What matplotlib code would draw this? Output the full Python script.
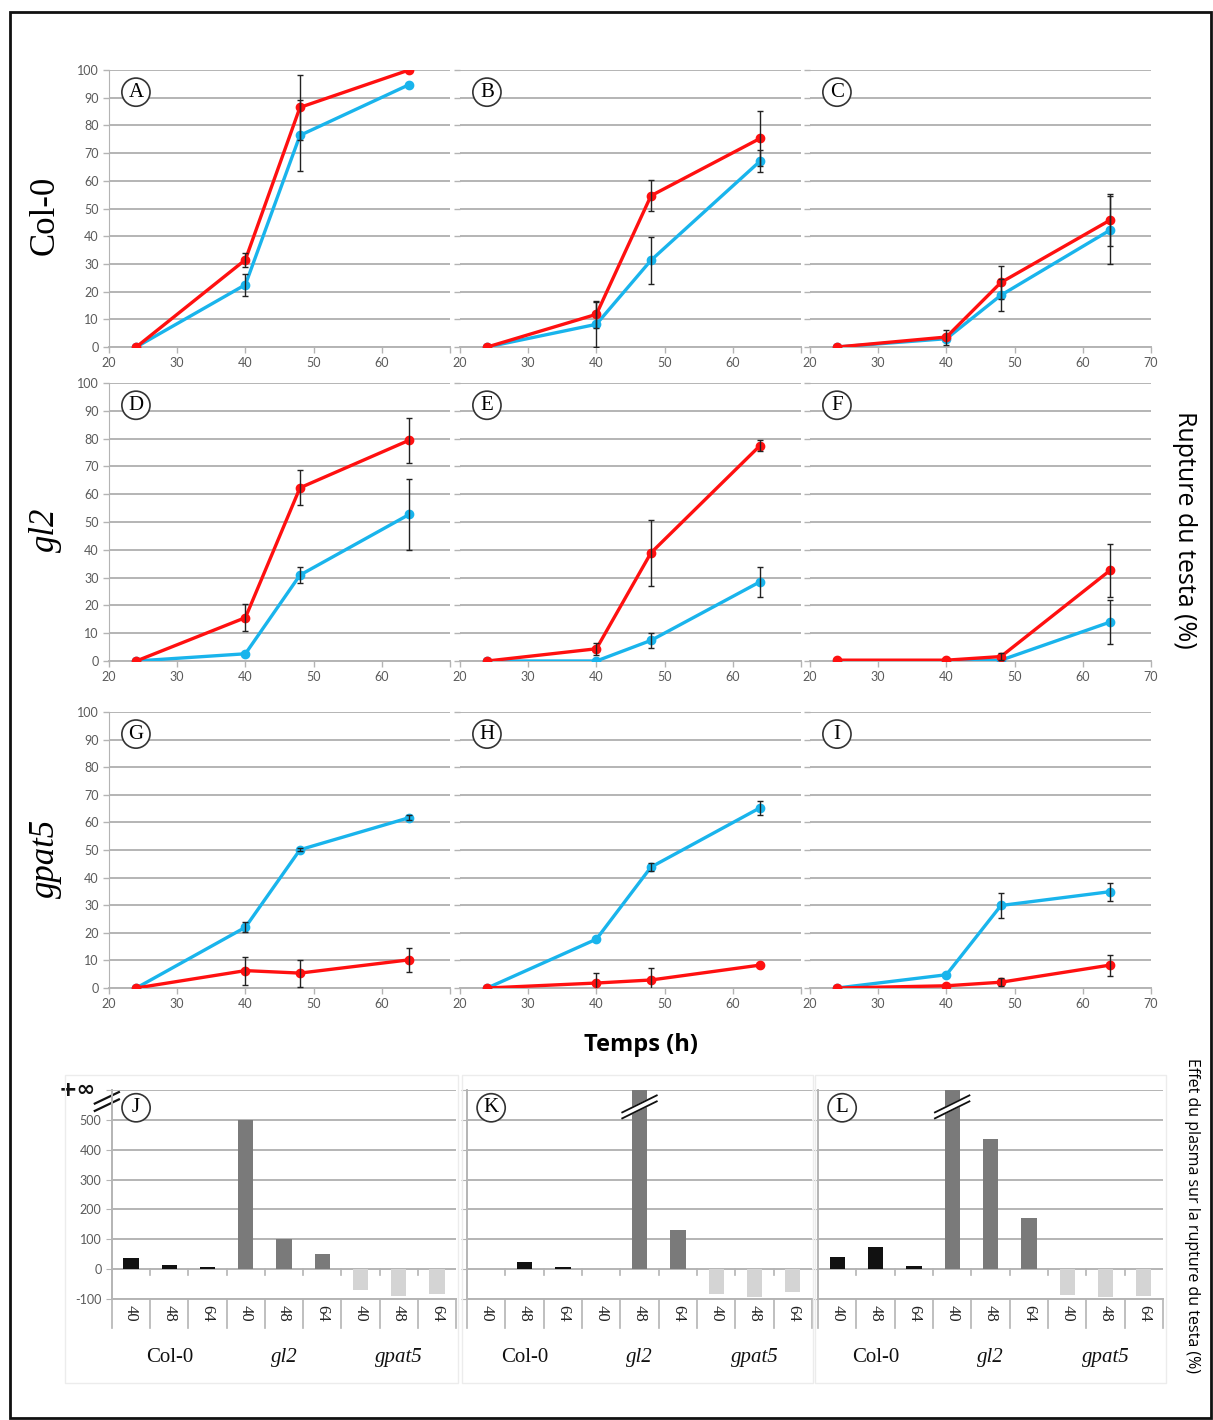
import numpy as np
import matplotlib.pyplot as plt
from matplotlib.patches import Rectangle

W, H = 1213, 1420

# time points (h) for the germination curves
hours = [24, 40, 48, 64]

# panels A-I : red and blue curves with their error bars
red_A = [0, 31.5, 86.5, 100]
red_A_err = [0, 2.5, 11.7, 0]
blue_A = [0, 22.5, 76.4, 94.7]
blue_A_err = [0, 4, 12.8, 0]

red_B = [0, 11.8, 54.6, 75.3]
red_B_err = [0, 4.8, 5.6, 10]
blue_B = [0, 8.2, 31.3, 67.1]
blue_B_err = [0, 8.2, 8.5, 3.9]

red_C = [0, 3.6, 23.3, 45.8]
red_C_err = [0, 2.7, 6, 9.4]
blue_C = [0, 3, 18.7, 42.2]
blue_C_err = [0, 0, 5.7, 12.4]

red_D = [0, 15.6, 62.3, 79.4]
red_D_err = [0, 4.8, 6.3, 8]
blue_D = [0, 2.6, 30.9, 52.7]
blue_D_err = [0, 0, 2.9, 12.8]

red_E = [0, 4.4, 38.9, 77.5]
red_E_err = [0, 2.2, 11.8, 2]
blue_E = [0, 0, 7.4, 28.5]
blue_E_err = [0, 0, 2.8, 5.3]

red_F = [0.3, 0.3, 1.6, 32.6]
red_F_err = [0, 0, 1.2, 9.4]
blue_F = [0, 0, 0.3, 14]
blue_F_err = [0, 0, 0, 8]

red_G = [0, 6.3, 5.4, 10.2]
red_G_err = [0, 5.1, 4.9, 4.4]
blue_G = [0, 22, 50.1, 61.7]
blue_G_err = [0, 1.8, 0.5, 1]

red_H = [0, 1.8, 2.9, 8.3]
red_H_err = [0, 3.5, 4.4, 0]
blue_H = [0, 17.7, 43.8, 65.3]
blue_H_err = [0, 0, 1.5, 2.6]

red_I = [0, 0.8, 2.1, 8.3]
red_I_err = [0, 0, 1.5, 3.8]
blue_I = [0, 4.8, 29.9, 34.9]
blue_I_err = [0, 0, 4.7, 3.2]

# panels J-L : effect of plasma (%), inf = off scale
bar_times = ['40', '48', '64'] * 3
genotypes = ['Col-0', 'gl2', 'gpat5']
J_values = [38, 13.5, 5.6, 500, 100, 50.6, -71, -89, -83]
K_values = [0, 23, 7, 0, np.inf, 131, -82, -92, -76]
L_values = [42, 74, 11, np.inf, 437, 171, -88, -93, -90]

RED = '#ff1010'
BLUE = '#19b4ec'
GRID = '#b4b4b4'
TICK = '#5a5a5a'
bar_colors = ['#111111'] * 3 + ['#7a7a7a'] * 3 + ['#d4d4d4'] * 3

fig = plt.figure(figsize=(W / 100, H / 100), dpi=100)


def px_axes(left, top, right, bottom):
    # axes placed with pixel coordinates of the reference
    return fig.add_axes([left / W, 1 - bottom / H, (right - left) / W, (bottom - top) / H])


def circle_label(ax, letter, x, y):
    ax.text(x, y, letter, transform=ax.transAxes, ha='center', va='center',
            fontsize=15, family='Liberation Serif', zorder=10,
            bbox=dict(boxstyle='circle,pad=0.22', fc='white', ec='#333333', lw=1.2))


def line_panel(ax, letter, red, red_err, blue, blue_err, show_y, last_col):
    ax.set_xlim(20, 70)
    ax.set_ylim(0, 100)
    ax.set_yticks(range(0, 101, 10))
    ax.set_xticks(range(20, 71, 10))
    ax.grid(axis='y', color=GRID, lw=1.4)
    ax.set_axisbelow(True)
    for s in ['top', 'right']:
        ax.spines[s].set_visible(False)
    ax.spines['bottom'].set_color(GRID)
    ax.spines['bottom'].set_linewidth(1.4)
    ax.spines['left'].set_color(GRID)
    ax.spines['left'].set_visible(show_y)
    ax.tick_params(colors=GRID, labelcolor=TICK, labelsize=9, length=4, width=1)
    for t in ax.get_xticklabels() + ax.get_yticklabels():
        t.set_family('Lato')
    if not show_y:
        ax.set_yticklabels([])
    if not last_col:
        ax.set_xticklabels(['20', '30', '40', '50', '60', ''])

    ax.plot(hours, blue, color=BLUE, lw=2.4, marker='o', ms=6, zorder=3)
    ax.plot(hours, red, color=RED, lw=2.4, marker='o', ms=6, zorder=4)
    # error bars (skip zero ones)
    for vals, errs in [(blue, blue_err), (red, red_err)]:
        xs = [h for h, e in zip(hours, errs) if e > 0]
        ys = [v for v, e in zip(vals, errs) if e > 0]
        es = [e for e in errs if e > 0]
        ax.errorbar(xs, ys, yerr=es, fmt='none', ecolor='#222222', elinewidth=1,
                    capsize=2.5, capthick=1, zorder=5)
    circle_label(ax, letter, 0.079, 0.92)


cols = [(109, 450), (460, 801), (810, 1151)]
rows = [(70, 347), (383, 661), (712, 988)]
series = [
    [('A', red_A, red_A_err, blue_A, blue_A_err),
     ('B', red_B, red_B_err, blue_B, blue_B_err),
     ('C', red_C, red_C_err, blue_C, blue_C_err)],
    [('D', red_D, red_D_err, blue_D, blue_D_err),
     ('E', red_E, red_E_err, blue_E, blue_E_err),
     ('F', red_F, red_F_err, blue_F, blue_F_err)],
    [('G', red_G, red_G_err, blue_G, blue_G_err),
     ('H', red_H, red_H_err, blue_H, blue_H_err),
     ('I', red_I, red_I_err, blue_I, blue_I_err)],
]
for r, (top, bottom) in enumerate(rows):
    for c, (left, right) in enumerate(cols):
        ax = px_axes(left, top, right, bottom)
        line_panel(ax, *series[r][c], show_y=(c == 0), last_col=(c == 2))


def bar_panel(ax, letter, values, show_y):
    top = 600
    x = np.arange(len(values))
    heights = [top if np.isinf(v) else v for v in values]
    ax.bar(x, heights, width=0.4, color=bar_colors, lw=0, zorder=3)
    ax.set_xlim(-0.5, 8.5)
    ax.set_ylim(-100, top)
    ax.set_yticks(range(-100, 601, 100))
    ax.grid(axis='y', color=GRID, lw=1.4)
    ax.set_axisbelow(True)
    for s in ['top', 'right']:
        ax.spines[s].set_visible(False)
    ax.spines['bottom'].set_color(GRID)
    ax.spines['bottom'].set_linewidth(1.4)
    ax.spines['left'].set_color(GRID)
    ax.spines['left'].set_linewidth(1.4)
    ax.tick_params(axis='y', colors=GRID, labelcolor=TICK, labelsize=9, length=4)
    ax.set_yticklabels(['-100', '0', '100', '200', '300', '400', '500', ''] if show_y else [])
    for t in ax.get_yticklabels():
        t.set_family('Lato')
    ax.set_xticks([])

    trans = ax.get_xaxis_transform()
    # small ticks on the zero line between categories
    for b in np.arange(0.5, 8.5, 1):
        ax.plot([b, b], [0, -20], color=GRID, lw=1.2, zorder=2)
    # category cells under the axis
    for b in np.arange(-0.5, 9.0, 1):
        ax.plot([b, b], [0, -0.14], color=GRID, lw=1.2, transform=trans, clip_on=False)
    for i, t in enumerate(bar_times):
        ax.text(i, -0.07, t, transform=trans, rotation=-90, ha='center', va='center',
                fontsize=12, family='Liberation Serif', color='#222222')
    for g, name in enumerate(genotypes):
        style = 'normal' if g == 0 else 'italic'
        ax.text(1 + 3 * g, -0.28, name, transform=trans, ha='center', va='center',
                fontsize=15, family='Liberation Serif', style=style, color='#111111')

    # break marks on off-scale bars
    for i, v in enumerate(values):
        if np.isinf(v):
            ax.plot([i - 0.45, i + 0.45], [515, 572], color='white', lw=5, zorder=6,
                    clip_on=False, solid_capstyle='butt')
            ax.plot([i - 0.45, i + 0.45], [505, 562], color='#111111', lw=1.3, zorder=7, clip_on=False)
            ax.plot([i - 0.45, i + 0.45], [525, 582], color='#111111', lw=1.3, zorder=7, clip_on=False)
    circle_label(ax, letter, 0.07, 0.915)


bar_cols = [(112, 456), (467, 812), (818, 1163)]
frames = [(65, 458), (462, 813), (815, 1166)]
bar_sets = [('J', J_values), ('K', K_values), ('L', L_values)]
for c, (left, right) in enumerate(bar_cols):
    # faint frame around each bar chart
    fl, fr = frames[c]
    fig.add_artist(Rectangle((fl / W, 1 - 1383 / H), (fr - fl) / W, 308 / H,
                             transform=fig.transFigure, fill=False, ec='#ececec', lw=1))
    ax = px_axes(left, 1090, right, 1299)
    bar_panel(ax, *bar_sets[c], show_y=(c == 0))
    if c == 0:
        # +inf label and axis break on J
        ax.text(-0.1, 1.0, '+∞', transform=ax.transAxes, ha='center', va='center',
                fontsize=16, fontweight='bold', color='#111111', family='DejaVu Sans')
        for dy in (0, 0.035):
            ax.plot([-0.05, 0.02], [0.90 + dy, 0.955 + dy], transform=ax.transAxes,
                    color='#111111', lw=1.6, clip_on=False)

# row labels
fig.text(45 / W, 1 - 215 / H, 'Col-0', rotation=90, ha='center', va='center',
         fontsize=25, family='Liberation Serif')
fig.text(45 / W, 1 - 530 / H, 'gl2', rotation=90, ha='center', va='center',
         fontsize=25, family='Liberation Serif', style='italic')
fig.text(45 / W, 1 - 858 / H, 'gpat5', rotation=90, ha='center', va='center',
         fontsize=25, family='Liberation Serif', style='italic')

# axis titles
fig.text(1185 / W, 1 - 530 / H, 'Rupture du testa (%)', rotation=-90, ha='center',
         va='center', fontsize=18, family='Open Sans')
fig.text(641 / W, 1 - 1045 / H, 'Temps (h)', ha='center', va='center',
         fontsize=17, fontweight='bold', family='Open Sans')
fig.text(1192 / W, 1 - 1215 / H, 'Effet du plasma sur la rupture du testa (%)', rotation=-90,
         ha='center', va='center', fontsize=11.5, family='Open Sans')

# outer frame
fig.add_artist(Rectangle((10 / W, 1 - 1418 / H), 1201 / W, 1406 / H, transform=fig.transFigure,
                         fill=False, ec='#111111', lw=2))

plt.savefig('out.png', dpi=100)
